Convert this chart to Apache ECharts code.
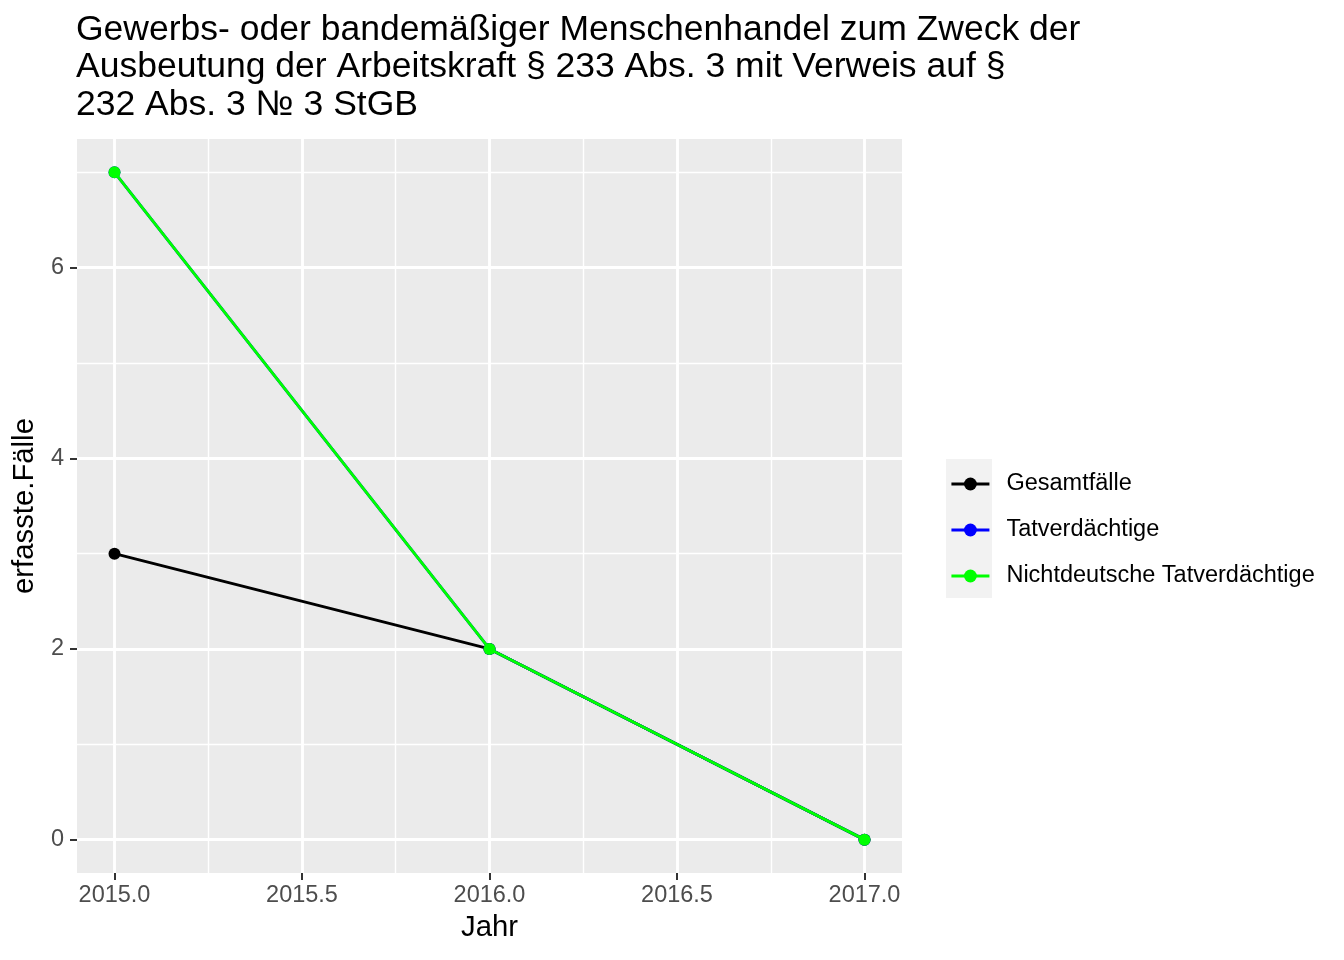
<!DOCTYPE html>
<html>
<head>
<meta charset="utf-8">
<script src="https://cdn.jsdelivr.net/npm/echarts@6/dist/echarts.min.js"></script>
<style>
  html, body { margin: 0; padding: 0; background: #ffffff; }
  #chart { width: 1344px; height: 960px; }
</style>
</head>
<body>
<div id="chart"></div>
<script>
// ---- data ----
const years = [2015, 2016, 2017];
const gesamtfaelle = [3, 2, 0];
const tatverdaechtige = [7, 2, 0];
const nichtdeutsche = [7, 2, 0];
const seriesNames = ['Gesamtfälle', 'Tatverdächtige', 'Nichtdeutsche Tatverdächtige'];
const xTicks = [2015, 2015.5, 2016, 2016.5, 2017];
const xMinor = [2015.25, 2015.75, 2016.25, 2016.75];
const yTicks = [0, 2, 4, 6];
const yMinor = [1, 3, 5, 7];
const titleText = 'Gewerbs- oder bandemäßiger Menschenhandel zum Zweck der\nAusbeutung der Arbeitskraft § 233 Abs. 3 mit Verweis auf §\n232 Abs. 3 № 3 StGB';

const FONT = '"Liberation Sans", Arial, Helvetica, sans-serif';
const pairs = vals => years.map((y, i) => [y, vals[i]]);

const chart = echarts.init(document.getElementById('chart'), null, { renderer: 'canvas' });

const gridLines = [
  ...xMinor.map(v => ({ xAxis: v, lineStyle: { width: 1.42 } })),
  ...yMinor.map(v => ({ yAxis: v, lineStyle: { width: 1.42 } })),
  ...xTicks.map(v => ({ xAxis: v, lineStyle: { width: 2.84 } })),
  ...yTicks.map(v => ({ yAxis: v, lineStyle: { width: 2.84 } }))
];

function dataSeries(name, vals, color, z) {
  return {
    name: name,
    type: 'line',
    data: pairs(vals),
    symbol: 'circle',
    symbolSize: 12,
    z: z,
    color: color,
    lineStyle: { color: color, width: 2.84 },
    itemStyle: { color: color },
    emphasis: { disabled: true },
    animation: false
  };
}

chart.setOption({
  animation: false,
  backgroundColor: '#ffffff',
  textStyle: { fontFamily: FONT },
  title: {
    text: titleText,
    left: 76,
    top: 11,
    padding: 0,
    textStyle: { fontFamily: FONT, fontSize: 35.5, fontWeight: 'normal', color: '#000000', lineHeight: 37.5 }
  },
  grid: {
    left: 77, right: 442, top: 139, bottom: 87,
    show: true, backgroundColor: '#EBEBEB', borderWidth: 0
  },
  xAxis: {
    type: 'value',
    min: 2014.9, max: 2017.1,
    name: 'Jahr',
    nameLocation: 'middle',
    nameGap: 39,
    nameTextStyle: { fontFamily: FONT, fontSize: 29.3, color: '#000000', lineHeight: 30 },
    axisLine: { show: false, onZero: false },
    axisTick: { show: true, customValues: xTicks, length: 7, lineStyle: { color: '#333333', width: 2 } },
    axisLabel: { customValues: xTicks, formatter: v => v.toFixed(1), fontFamily: FONT, fontSize: 23.5, color: '#4D4D4D', margin: 11, lineHeight: 24 },
    splitLine: { show: false }
  },
  yAxis: {
    type: 'value',
    min: -0.35, max: 7.35,
    name: 'erfasste.Fälle',
    nameLocation: 'middle',
    nameGap: 31,
    nameTextStyle: { fontFamily: FONT, fontSize: 29.3, color: '#000000', lineHeight: 30 },
    axisLine: { show: false, onZero: false },
    axisTick: { show: true, customValues: yTicks, length: 7, lineStyle: { color: '#333333', width: 2 } },
    axisLabel: { customValues: yTicks, formatter: v => String(v), fontFamily: FONT, fontSize: 23.5, color: '#4D4D4D', margin: 13 },
    splitLine: { show: false }
  },
  legend: {
    data: seriesNames,
    orient: 'vertical',
    left: 950,
    top: 472,
    padding: 0,
    itemWidth: 38,
    itemHeight: 16,
    itemGap: 22,
    selectedMode: false,
    lineStyle: { width: 2.84 },
    textStyle: { fontFamily: FONT, fontSize: 23.5, color: '#000000', lineHeight: 24, padding: [0, 0, 0, 12] }
  },
  graphic: [{
    type: 'rect', left: 946, top: 459, z: -1,
    shape: { width: 46, height: 139 },
    style: { fill: '#F2F2F2' }
  }],
  series: [
    {
      type: 'line',
      data: [],
      z: 0,
      silent: true,
      markLine: {
        silent: true,
        z: 0,
        symbol: ['none', 'none'],
        label: { show: false },
        emphasis: { disabled: true },
        animation: false,
        lineStyle: { color: '#ffffff', type: 'solid' },
        data: gridLines
      }
    },
    dataSeries(seriesNames[0], gesamtfaelle, '#000000', 3),
    dataSeries(seriesNames[1], tatverdaechtige, '#0000FF', 4),
    dataSeries(seriesNames[2], nichtdeutsche, '#00FF00', 5)
  ]
});
</script>
</body>
</html>
